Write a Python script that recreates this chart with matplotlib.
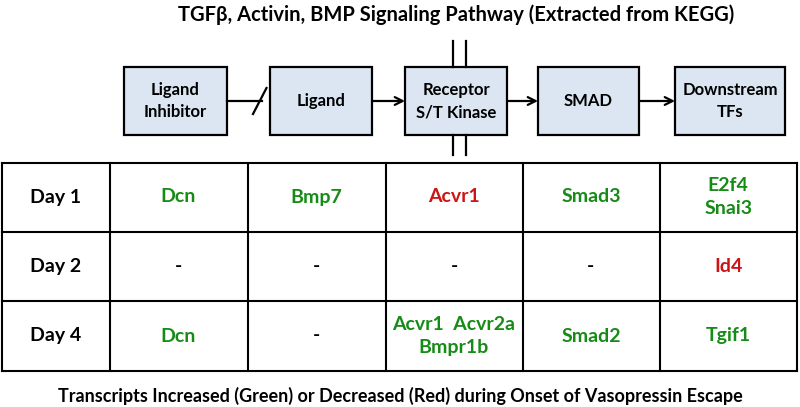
import matplotlib.pyplot as plt
from matplotlib.patches import Rectangle

plt.rcParams['font.family'] = ['Lato', 'DejaVu Sans']

title = "TGF\u03b2, Activin, BMP Signaling Pathway (Extracted from KEGG)"
caption = "Transcripts Increased (Green) or Decreased (Red) during Onset of Vasopressin Escape"

steps = ["Ligand\nInhibitor", "Ligand", "Receptor\nS/T Kinase", "SMAD", "Downstream\nTFs"]
days = ["Day 1", "Day 2", "Day 4"]

# one entry per step, per day: (genes, direction) ; direction: up / down / none
day1 = [("Dcn", "up"), ("Bmp7", "up"), ("Acvr1", "down"), ("Smad3", "up"), ("E2f4\nSnai3", "up")]
day2 = [("-", "none"), ("-", "none"), ("-", "none"), ("-", "none"), ("Id4", "down")]
day4 = [("Dcn", "up"), ("-", "none"), ("Acvr1  Acvr2a\nBmpr1b", "up"), ("Smad2", "up"), ("Tgif1", "up")]
table = [day1, day2, day4]

colors = {"up": "#168c16", "down": "#cc1414", "none": "black"}

fig = plt.figure(figsize=(8, 4.07), dpi=100)
fig.set_facecolor('white')
ax = fig.add_axes([0, 0, 1, 1])
ax.set_xlim(0, 800)
ax.set_ylim(407, 0)
ax.axis('off')

# pathway boxes
box_x = [124, 270, 405, 538, 675]
box_w = [103, 102, 102, 101, 110]
top, bot = 67, 135
for x, w, s in zip(box_x, box_w, steps):
    ax.add_patch(Rectangle((x, top), w, bot - top, facecolor='#dce6f2', edgecolor='black', lw=1.6))
    ax.text(x + w / 2, (top + bot) / 2, s, ha='center', va='center', fontsize=12,
            fontweight='bold', linespacing=1.5)

ym = (top + bot) / 2
# inhibition
ax.plot([box_x[0] + box_w[0], 262], [ym, ym], color='black', lw=1.6)
ax.plot([253, 266.5], [114, 88], color='black', lw=1.6)
# activation arrows
for i in range(1, 4):
    ax.annotate("", xy=(box_x[i + 1], ym), xytext=(box_x[i] + box_w[i], ym),
                arrowprops=dict(arrowstyle='->', color='black', lw=1.6, mutation_scale=14,
                                shrinkA=0, shrinkB=0))

# membrane lines
for xm in [452.5, 465.5]:
    ax.plot([xm, xm], [41, top], color='black', lw=1.6)
    ax.plot([xm, xm], [bot, 155], color='black', lw=1.6)

ax.text(456, 15, title, ha='center', va='center', fontsize=14.5, fontweight='bold')

# table
col_x = [2, 109.5, 247.5, 385.5, 522.5, 659.5, 797]
row_y = [162.5, 231.5, 301, 371]
for x in col_x:
    ax.plot([x, x], [row_y[0], row_y[-1]], color='black', lw=1.5)
for y in row_y:
    ax.plot([col_x[0], col_x[-1]], [y, y], color='black', lw=1.5)

for r, day in enumerate(days):
    yc = (row_y[r] + row_y[r + 1]) / 2
    ax.text((col_x[0] + col_x[1]) / 2, yc, day, ha='center', va='center', fontsize=14,
            fontweight='bold')
    for c, (genes, d) in enumerate(table[r]):
        xc = (col_x[c + 1] + col_x[c + 2]) / 2
        ax.text(xc, yc, genes, ha='center', va='center', fontsize=14, fontweight='bold',
                color=colors[d], linespacing=1.45)

ax.text(400, 396, caption, ha='center', va='center', fontsize=13, fontweight='bold')

fig.savefig('out.png', dpi=100, facecolor='white')
